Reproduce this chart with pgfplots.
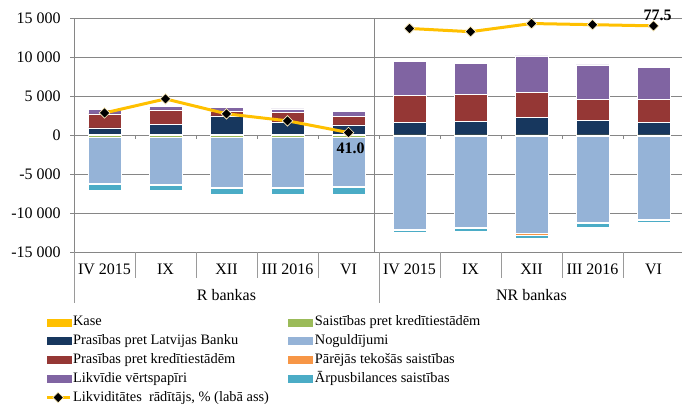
\documentclass[border=0pt]{standalone}
\usepackage{fontspec}
\setmainfont{Liberation Serif}
\usepackage{pgfplots}
\usepackage{pgfplotstable}
\pgfplotsset{compat=1.18}
\definecolor{kase}{HTML}{FFC000}
\definecolor{lb}{HTML}{17375E}
\definecolor{ki}{HTML}{953735}
\definecolor{lv}{HTML}{8064A2}
\definecolor{saist}{HTML}{9BBB59}
\definecolor{nog}{HTML}{95B3D7}
\definecolor{parej}{HTML}{F79646}
\definecolor{arpus}{HTML}{4BACC6}
\definecolor{gridgray}{HTML}{868686}
\definecolor{tickgray}{HTML}{9A9A9A}
\newcommand\tf{\fontsize{12}{14}\selectfont}
\newcommand\lf{\fontsize{10.8}{12.5}\selectfont}
\newcommand\sw[1]{\addlegendimage{legend image code/.code={\fill[#1] (0pt,-2.6pt) rectangle (18pt,2.6pt);}}}
\pgfplotstableread{
x kase lb ki lv saist nog parej arpus liq
0 120 860 1795 550 -250 -5940 -60 -760 47.7
1 120 1320 1846 425 -250 -6070 -60 -710 52.5
2 120 2400 590 470 -250 -6420 -60 -880 47.4
3 120 1540 1320 435 -250 -6420 -60 -880 45.0
4 120 1240 1100 600 -250 -6290 -80 -930 41.0
5 80 1630 3460 4360 -120 -11930 -100 -250 76.6
6 80 1700 3510 3920 -120 -11680 -100 -370 75.5
7 80 2220 3260 4650 -120 -12440 -250 -360 78.3
8 80 1830 2740 4400 -120 -11070 -100 -470 77.9
9 80 1630 2900 4100 -120 -10610 -150 -310 77.5
}\data
\begin{document}
\begin{tikzpicture}
\useasboundingbox (0,0) rectangle (511.5pt,303.75pt);
\pgfplotsset{
  base/.style={scale only axis, width=457.5pt, height=175.35pt,
    at={(55.5pt,114.5pt)}, anchor=south west, xmin=-0.5, xmax=9.5, clip=false},
  bar/.style={draw=white, line width=0.4pt},
  liq/.style={color=kase, line width=2.25pt, mark=square*, mark size=2.8pt,
    mark options={rotate=45, fill=black, draw=white!75!kase, line width=0.5pt}},
}
% positive stack + axes
\begin{axis}[base, ymin=-15000, ymax=15000, ybar stacked, bar width=0.54,
  axis x line*=bottom, axis y line*=left,
  axis line style={draw=gridgray, line width=0.75pt},
  ymajorgrids, grid style={draw=gridgray, line width=0.75pt},
  scaled y ticks=false,
  ytick={-15000,-10000,-5000,0,5000,10000,15000},
  yticklabels={-15 000,-10 000,-5 000,0,5 000,10 000,15 000},
  tick align=outside, major tick length=3pt,
  ytick style={draw=gridgray, line width=0.75pt},
  xtick={0,...,9}, xtick style={draw=none},
  xticklabels={IV 2015,IX,XII,III 2016,VI,IV 2015,IX,XII,III 2016,VI},
  ticklabel style={font=\tf},
  yticklabel style={anchor=east, inner sep=0pt, xshift=-6.75pt},
  xticklabel style={anchor=base, inner sep=0pt, yshift=-13.5pt},
]
\addplot[bar, fill=kase] table[x=x, y=kase] {\data};
\addplot[bar, fill=lb] table[x=x, y=lb] {\data};
\addplot[bar, fill=ki] table[x=x, y=ki] {\data};
\addplot[bar, fill=lv] table[x=x, y=lv] {\data};
\draw[gridgray, line width=0.75pt] (axis cs:4.43,-15000) -- (axis cs:4.43,15000);
\pgfplotsinvokeforeach{0.5,1.5,2.5,3.5,4.5,5.5,6.5,7.5,8.5}{
  \draw[gridgray, line width=0.75pt] (axis cs:#1,0) -- ([yshift=-2.5pt]axis cs:#1,0);}
\pgfplotsinvokeforeach{0.5,1.5,2.5,3.5,5.5,6.5,7.5,8.5}{
  \draw[tickgray, line width=0.75pt] (axis cs:#1,-15000) -- ([yshift=-19.5pt]axis cs:#1,-15000);}
\pgfplotsinvokeforeach{-0.5,4.5,9.5}{
  \draw[tickgray, line width=0.75pt] (axis cs:#1,-15000) -- ([yshift=-38pt]axis cs:#1,-15000);}
\node[font=\tf, anchor=base] at ([yshift=-35.8pt]axis cs:2,-15000) {R bankas};
\node[font=\tf, anchor=base] at ([yshift=-35.8pt]axis cs:7,-15000) {NR bankas};
\end{axis}
% negative stack
\begin{axis}[base, ymin=-15000, ymax=15000, ybar stacked, bar width=0.54, hide axis]
\addplot[bar, fill=saist] table[x=x, y=saist] {\data};
\addplot[bar, fill=nog] table[x=x, y=nog] {\data};
\addplot[bar, fill=parej] table[x=x, y=parej] {\data};
\addplot[bar, fill=arpus] table[x=x, y=arpus] {\data};
\end{axis}
% secondary axis: liquidity ratio
\begin{axis}[base, ymin=0, ymax=80, hide axis,
  legend columns=2, legend cell align=left,
  legend style={at={(axis description cs:-0.0475,-0.258)}, anchor=north west,
    draw=none, fill=none, inner sep=0pt, font=\lf,
    /tikz/every even column/.append style={column sep=13pt},
    nodes={inner xsep=1.5pt, inner ysep=1.6pt, text height=8.2pt, text depth=2.7pt}},
]
\sw{kase}\addlegendentry{Kase}
\sw{saist}\addlegendentry{Saistības pret kredītiestādēm}
\sw{lb}\addlegendentry{Prasības pret Latvijas Banku}
\sw{nog}\addlegendentry{Noguldījumi}
\sw{ki}\addlegendentry{Prasības pret kredītiestādēm}
\sw{parej}\addlegendentry{Pārējās tekošās saistības}
\sw{lv}\addlegendentry{Likvīdie vērtspapīri}
\sw{arpus}\addlegendentry{Ārpusbilances saistības}
\addplot[liq, restrict x to domain=0:4] table[x=x, y=liq] {\data};
\addlegendentry{Likviditātes\ \ rādītājs, \% (labā ass)}
\addplot[liq, forget plot, restrict x to domain=5:9] table[x=x, y=liq] {\data};
\node[font=\tf\bfseries] at ([xshift=1.5pt,yshift=-12pt]axis cs:4,41.0) {41.0};
\node[font=\tf\bfseries] at ([xshift=3pt,yshift=7.5pt]axis cs:9,77.5) {77.5};
\end{axis}
\end{tikzpicture}
\end{document}
